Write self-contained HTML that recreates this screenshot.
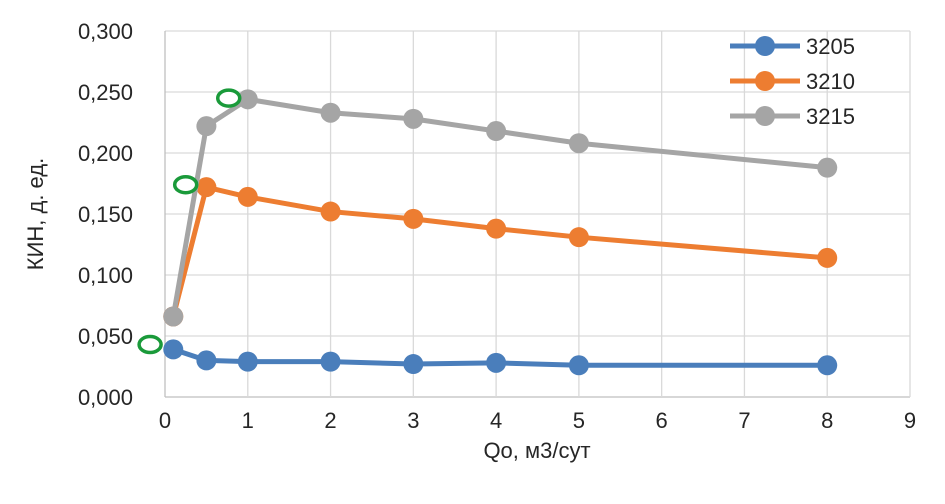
<!DOCTYPE html>
<html><head><meta charset="utf-8"><style>
html,body{margin:0;padding:0;background:#fff;}
svg text{font-family:"Liberation Sans",sans-serif;fill:#262626;}
</style></head><body>
<svg width="945" height="499">
<g id="grid"></g><g id="axes"></g><g id="series"></g><g id="legend"></g><g id="notes"></g>
</svg>
<script>
const xVals=[0.1,0.5,1,2,3,4,5,8];
const s3205=[0.039,0.030,0.029,0.029,0.027,0.028,0.026,0.026];
const s3210=[0.066,0.172,0.164,0.152,0.146,0.138,0.131,0.114];
const s3215=[0.066,0.222,0.244,0.233,0.228,0.218,0.208,0.188];
const seriesNames=["3205","3210","3215"];
const xTicks=[0,1,2,3,4,5,6,7,8,9];
const yTicks=[0,0.05,0.1,0.15,0.2,0.25,0.3];
const yTickLabels=["0,000","0,050","0,100","0,150","0,200","0,250","0,300"];
const markPts=[[-0.18,0.043],[0.25,0.174],[0.77,0.245]];
const NS="http://www.w3.org/2000/svg";
const X=v=>165+v*(910-165)/9, Y=v=>397-v*(397-31)/0.3;
function mk(t,a,p){const e=document.createElementNS(NS,t);for(const k in a)e.setAttribute(k,a[k]);p.appendChild(e);return e;}
const grid=document.getElementById('grid'),axes=document.getElementById('axes');
yTicks.forEach((t,i)=>{
 const l=mk('line',{x1:X(0),x2:X(9),y1:Y(t),y2:Y(t),stroke:i==0?'#bfbfbf':'#d9d9d9','stroke-width':1.3},grid);
 
 
 const tx=mk('text',{x:133,y:Y(t)+8,'text-anchor':'end','font-size':22},axes);tx.textContent=yTickLabels[i];
 
 
});
xTicks.forEach(t=>{
 const l=mk('line',{x1:X(t),x2:X(t),y1:Y(0.3),y2:Y(0),stroke:t==0?'#bfbfbf':'#d9d9d9','stroke-width':1.3},grid);
 
 
 const tx=mk('text',{x:X(t),y:428,'text-anchor':'middle','font-size':22},axes);tx.textContent=t;
 
 
});
const xt=mk('text',{x:537,y:458,'text-anchor':'middle','font-size':22},axes);xt.textContent='Qo, м3/сут';


const yt=mk('text',{x:0,y:0,'text-anchor':'middle','font-size':22,transform:'translate(43,214) rotate(-90)'},axes);yt.textContent='КИН, д. ед.';


const colors=['#4a7ebb','#ed7d31','#a5a5a5'];
const data=[s3205,s3210,s3215];
const sg=document.getElementById('series'),lg=document.getElementById('legend');
data.forEach((d,k)=>{
 const g=mk('g',{},sg);
 
 
 const pl=mk('polyline',{points:d.map((v,i)=>X(xVals[i])+','+Y(v)).join(' '),fill:'none',stroke:colors[k],'stroke-width':5,'stroke-linejoin':'round'},g);
 
 
 d.forEach((v,i)=>{const c=mk('circle',{cx:X(xVals[i]),cy:Y(v),r:10,fill:colors[k]},g);
  
  });
 const ly=46+k*35;
 const le=mk('g',{},lg);
 
 
 mk('line',{x1:730,x2:800,y1:ly,y2:ly,stroke:colors[k],'stroke-width':5},le);
 mk('circle',{cx:765,cy:ly,r:10,fill:colors[k]},le);
 const t=mk('text',{x:806,y:ly+8,'font-size':22},le);t.textContent=seriesNames[k];
});
const ng=document.getElementById('notes');
markPts.forEach(p=>{const e=mk('ellipse',{cx:X(p[0]),cy:Y(p[1]),rx:11,ry:8,fill:'#fff',stroke:'#1a9a3a','stroke-width':3.5},ng);
 
 });
</script>
</body></html>
